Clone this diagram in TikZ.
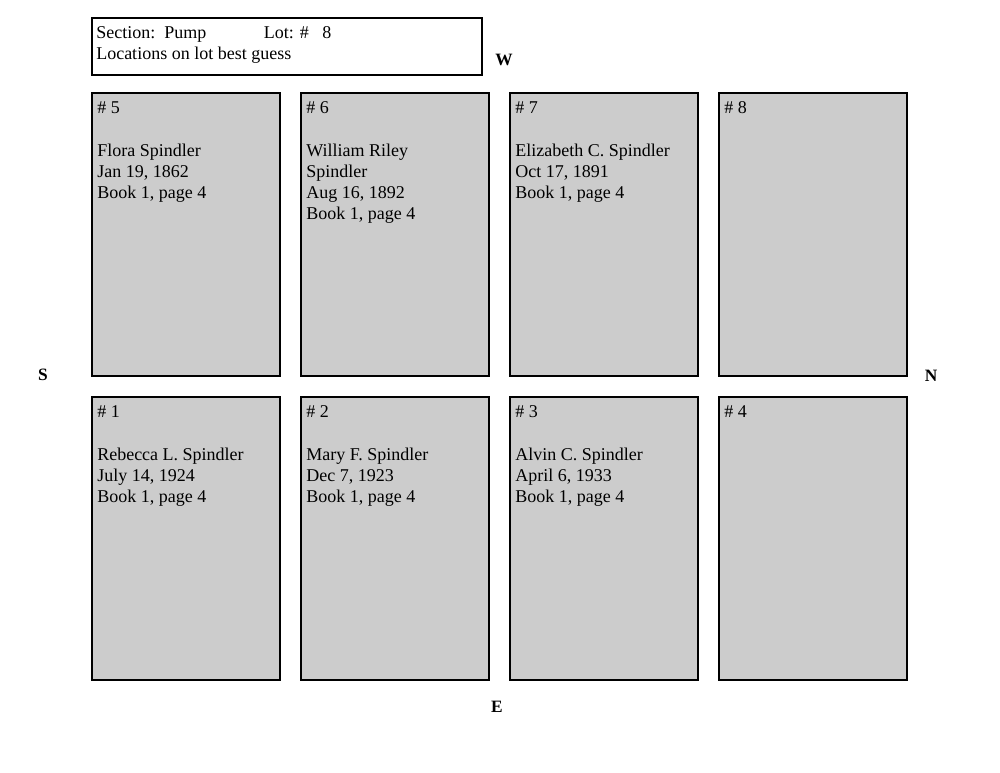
\documentclass[tikz,border=0pt]{standalone}
\usepackage{fontspec}
\setmainfont{Liberation Serif}
\begin{document}
\begin{tikzpicture}[x=0.75pt,y=-0.75pt,
  plot/.style={draw=black,line width=1.6pt,fill=black!20},
  txt/.style={anchor=base west,inner sep=0pt,font=\fontsize{13.5}{15.75}\selectfont},
  dir/.style={font=\fontsize{13}{15}\selectfont\bfseries,inner sep=0pt}]
\useasboundingbox (0,0) rectangle (1000,773);
\draw[line width=0.8pt] (92,18) rectangle (482,75);
\node[txt] (h1) at (96,39) {Section:\ \ Pump\hspace{3.2em}Lot: \#\ \ \ 8};
\node[txt] (h2) at (96,60) {Locations on lot best guess};
\node[dir] (W) at (504,60) {W};
\node[dir] (S) at (43,375) {S};
\node[dir] (N) at (931,376) {N};
\node[dir] (E) at (497,707) {E};
\foreach \x/\n/\a/\b/\c/\d in {92/5/{Flora Spindler}/{Jan 19, 1862}/{Book 1, page 4}/{},
  301/6/{William Riley}/{Spindler}/{Aug 16, 1892}/{Book 1, page 4},
  510/7/{Elizabeth C. Spindler}/{Oct 17, 1891}/{Book 1, page 4}/{},
  719/8/{}/{}/{}/{}}{
  \draw[plot] (\x,93) rectangle (\x+188,376);
  \node[txt] at (\x+5,114) {\# \n};
  \node[txt] at (\x+5,157) {\a};
  \node[txt] at (\x+5,178) {\b};
  \node[txt] at (\x+5,199) {\c};
  \node[txt] at (\x+5,220) {\d};
}
\foreach \x/\n/\a/\b/\c in {92/1/{Rebecca L. Spindler}/{July 14, 1924}/{Book 1, page 4},
  301/2/{Mary F. Spindler}/{Dec 7, 1923}/{Book 1, page 4},
  510/3/{Alvin C. Spindler}/{April 6, 1933}/{Book 1, page 4},
  719/4/{}/{}/{}}{
  \draw[plot] (\x,397) rectangle (\x+188,680);
  \node[txt] at (\x+5,418) {\# \n};
  \node[txt] at (\x+5,461) {\a};
  \node[txt] at (\x+5,482) {\b};
  \node[txt] at (\x+5,503) {\c};
}
\end{tikzpicture}
\end{document}
